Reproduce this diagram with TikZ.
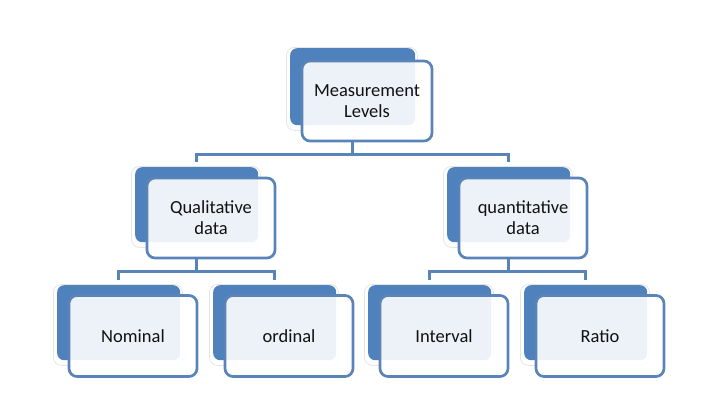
\documentclass[tikz,border=0pt]{standalone}
\usepackage{fontspec}
\setmainfont{Carlito}
\usetikzlibrary{calc}
\definecolor{ofblue}{HTML}{4F81BD}
\definecolor{lineblue}{HTML}{5A84B8}
\definecolor{txt}{HTML}{111111}
\tikzset{
  backbox/.style={draw=none, fill=ofblue, rounded corners=7pt, minimum width=123pt, minimum height=76pt, inner sep=0pt, anchor=north west},
  shadowbox/.style={draw=black!10, line width=0.8pt, fill=white, rounded corners=8pt, minimum width=129pt, minimum height=82pt, inner sep=0pt, anchor=north west},
  frontbox/.style={draw=lineblue, line width=2.7pt, fill=white, fill opacity=0.9, text opacity=1, rounded corners=8pt, minimum width=128pt, minimum height=80pt, inner sep=0pt, text=txt, align=center, font=\fontsize{18.5}{21}\selectfont},
  conn/.style={draw=lineblue, line width=2.7pt}
}
\begin{document}
\begin{tikzpicture}[x=1pt,y=1pt]
\useasboundingbox (0,0) rectangle (709,-404);
% shadows and back boxes
\foreach \nm/\x/\y/\w/\h in {ml/290/-48/125/77, ql/135/-167/123/75, qn/447/-167/123/75, no/57/-285/123/75, or/213/-285/123/75, in/368/-285/123/75, ra/524/-285/123/75}{
  \node[shadowbox, minimum width=\w pt+6pt, minimum height=\h pt+6pt] (\nm s) at (\x-4,\y+1) {};
  \node[backbox, minimum width=\w pt, minimum height=\h pt] (\nm b) at (\x,\y) {};
}
% front boxes
\node[frontbox, minimum width=130pt] (mlf) at (367,-101) {Measurement\\Levels};
\node[frontbox] (qlf) at (211,-218) {Qualitative\\data};
\node[frontbox] (qnf) at (523,-218) {quantitative\\data};
\node[frontbox, minimum height=81pt] (nof) at (133,-336) {Nominal};
\node[frontbox, minimum height=81pt] (orf) at (289,-336) {ordinal};
\node[frontbox, minimum height=81pt] (inf) at (444,-336) {Interval};
\node[frontbox, minimum height=81pt] (raf) at (600,-336) {Ratio};
% connectors
\coordinate (j1) at ($(mlb.center |- mlf.south)+(0,-12)$);
\coordinate (j2) at ($(qlb.center |- qlf.south)+(0,-12)$);
\coordinate (j3) at ($(qnb.center |- qnf.south)+(0,-12)$);
\draw[conn] (mlb.center |- mlf.south) -- (j1);
\draw[conn] (j1) -| ([yshift=5pt]qlb.north);
\draw[conn] (j1) -| ([yshift=5pt]qnb.north);
\draw[conn] (qlb.center |- qlf.south) -- (j2);
\draw[conn] (j2) -| ([yshift=5pt]nob.north);
\draw[conn] (j2) -| ([yshift=5pt]orb.north);
\draw[conn] (qnb.center |- qnf.south) -- (j3);
\draw[conn] (j3) -| ([yshift=5pt]inb.north);
\draw[conn] (j3) -| ([yshift=5pt]rab.north);
\end{tikzpicture}
\end{document}
